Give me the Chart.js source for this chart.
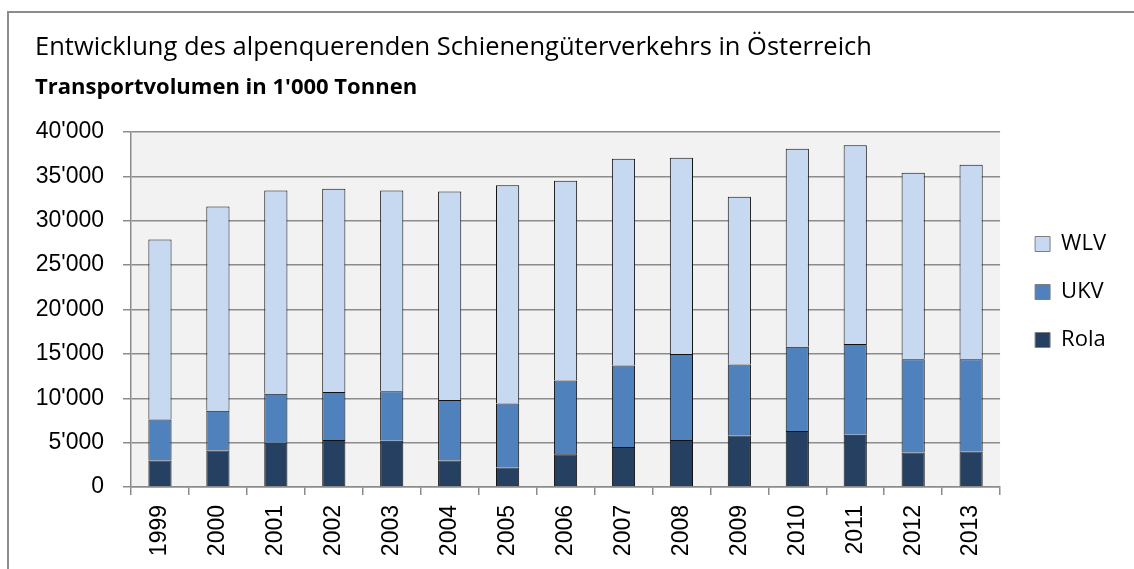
<!DOCTYPE html>
<html>
<head>
<meta charset="utf-8">
<script src="https://cdn.jsdelivr.net/npm/chart.js@4.4.0/dist/chart.umd.min.js"></script>
<style>
    html, body { margin: 0; padding: 0; background: #fff; overflow: hidden; }
    #wrap { position: relative; width: 1134px; height: 569px; }
    #frame { position: absolute; left: 7px; top: 11px; width: 1200px; height: 700px; border: 2px solid #8c8c8c; pointer-events: none; }
    canvas { position: absolute; left: 0; top: 0; }
</style>
</head>
<body>
<div id="wrap">
    <canvas id="alpen-chart" width="1134" height="569"></canvas>
    <div id="frame"></div>
</div>
<script>
var years = ['1999', '2000', '2001', '2002', '2003', '2004', '2005', '2006', '2007', '2008', '2009', '2010', '2011', '2012', '2013'];
// 1'000 Tonnen
var rola = [3000, 4100, 5000, 5300, 5200, 3000, 2200, 3700, 4500, 5300, 5800, 6300, 5900, 3900, 4000];
var ukv = [4600, 4500, 5500, 5400, 5600, 6800, 7200, 8300, 9200, 9700, 8000, 9500, 10200, 10500, 10400];
var wlv = [20300, 23000, 22900, 22900, 22600, 23500, 24600, 22500, 23300, 22100, 18900, 22300, 22400, 21000, 21900];

var titleText = 'Entwicklung des alpenquerenden Schienengüterverkehrs in Österreich';
var subtitleText = "Transportvolumen in 1'000 Tonnen";

var gridColor = '#8c8c8c';

function formatThousands(v) {
    return String(v).replace(/\B(?=(\d{3})+(?!\d))/g, "'");
}

// grauer Hintergrund der Zeichenfläche
var plotBg = {
    id: 'plotBg',
    beforeDraw: function (chart) {
        var a = chart.chartArea;
        var ctx = chart.ctx;
        ctx.save();
        ctx.fillStyle = '#f2f2f2';
        ctx.fillRect(a.left, a.top, a.right - a.left, a.bottom - a.top);
        ctx.restore();
    }
};

// Legende etwas vom Diagramm abrücken
var legendShift = {
    id: 'legendShift',
    afterLayout: function (chart) {
        chart.legend.left += 9;
        chart.legend.right += 9;
    }
};

var chart = new Chart(
    document.getElementById('alpen-chart'),
    {
        type: 'bar',
        data: {
            labels: years,
            datasets: [
                {
                    label: 'Rola',
                    data: rola,
                    backgroundColor: '#254061',
                    borderColor: '#111',
                    borderWidth: 1
                },
                {
                    label: 'UKV',
                    data: ukv,
                    backgroundColor: '#4f81bd',
                    borderColor: '#111',
                    borderWidth: 1
                },
                {
                    label: 'WLV',
                    data: wlv,
                    backgroundColor: '#c6d9f1',
                    borderColor: '#111',
                    borderWidth: 1
                }]
        },
        options: {
            responsive: false,
            animation: false,
            barPercentage: 0.4,
            categoryPercentage: 1,
            layout: {
                padding: { top: 15, left: 35, right: 27, bottom: 0 }
            },
            plugins: {
                title: {
                    display: true,
                    text: titleText,
                    align: 'start',
                    color: '#000',
                    font: { family: 'Open Sans', size: 25.5, weight: 'normal', lineHeight: 1.2 },
                    padding: { top: 17, bottom: 6 }
                },
                subtitle: {
                    display: true,
                    text: subtitleText,
                    align: 'start',
                    color: '#000',
                    font: { family: 'Open Sans', size: 22, weight: 'bold', lineHeight: 1.2 },
                    padding: { top: 6, bottom: 31 }
                },
                legend: {
                    position: 'right',
                    reverse: true,
                    labels: {
                        boxWidth: 15,
                        boxHeight: 15,
                        padding: 26,
                        color: '#000',
                        font: { family: 'Open Sans', size: 22 },
                        generateLabels: function (c) {
                            var items = Chart.defaults.plugins.legend.labels.generateLabels(c);
                            items.forEach(function (it) {
                                it.strokeStyle = '#7f7f7f';
                                it.lineWidth = 1;
                            });
                            return items;
                        }
                    }
                },
                tooltip: { enabled: false }
            },
            scales: {
                x: {
                    stacked: true,
                    grid: {
                        offset: true,
                        drawOnChartArea: false,
                        drawTicks: true,
                        tickLength: 8,
                        color: gridColor,
                        lineWidth: 1.5
                    },
                    border: { display: true, color: gridColor, width: 1.5 },
                    ticks: {
                        minRotation: 90,
                        maxRotation: 90,
                        padding: 10,
                        color: '#000',
                        font: { family: 'Liberation Sans', size: 23 }
                    },
                    afterFit: function (scale) {
                        scale.height = 82;
                    }
                },
                y: {
                    stacked: true,
                    min: 0,
                    max: 40000,
                    grid: {
                        tickLength: 8,
                        color: gridColor,
                        lineWidth: 1.5
                    },
                    border: { display: true, color: gridColor, width: 1.5 },
                    ticks: {
                        stepSize: 5000,
                        padding: 19,
                        color: '#000',
                        font: { family: 'Liberation Sans', size: 23 },
                        callback: function (value) {
                            return formatThousands(value);
                        }
                    },
                    afterFit: function (scale) {
                        scale.width = 96;
                    }
                }
            }
        },
        plugins: [plotBg, legendShift]
    }
);
</script>
</body>
</html>
